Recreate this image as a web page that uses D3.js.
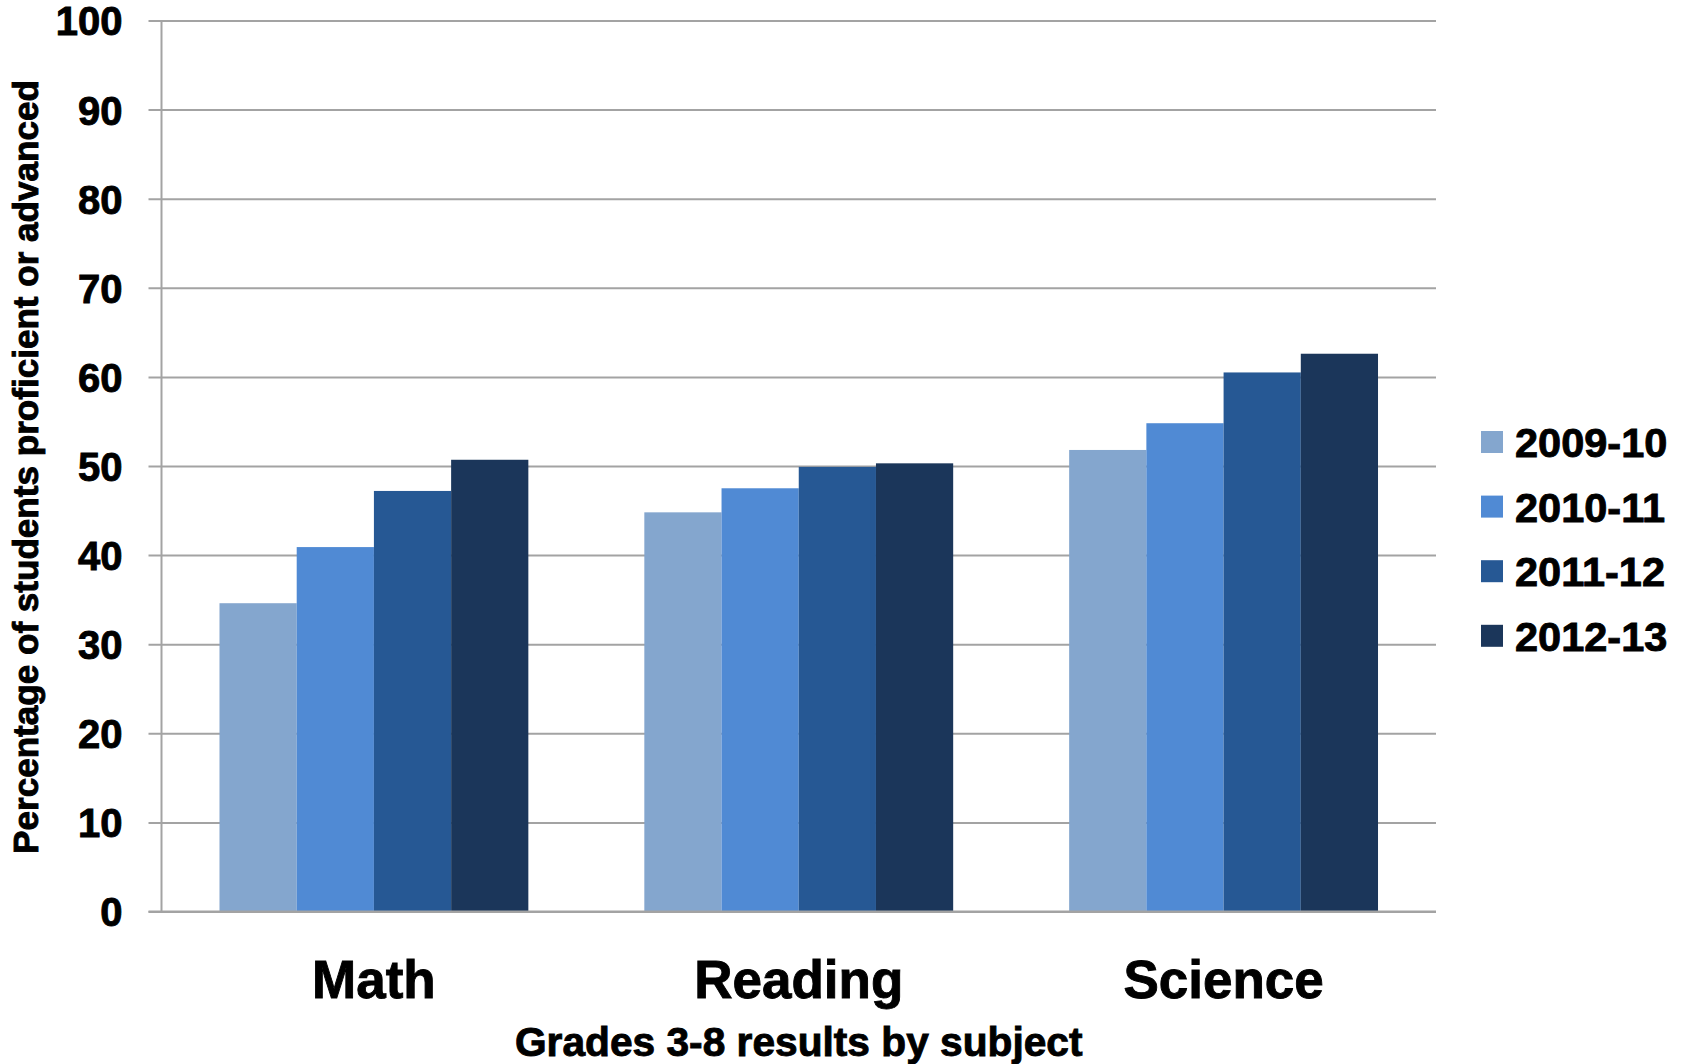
<!DOCTYPE html>
<html>
<head>
<meta charset="utf-8">
<script src="https://cdn.jsdelivr.net/npm/d3@7"></script>
<style>
  html, body { margin: 0; padding: 0; background: #fff; }
  svg text {
    font-family: "Liberation Sans", Arial, Helvetica, sans-serif;
    font-weight: bold;
    fill: #000;
    stroke: #000;
    stroke-width: 0.9px;
  }
</style>
</head>
<body>
<svg id="chart" width="1687" height="1064"></svg>
<script>
// Grades 3-8 proficiency by subject and school year
const subjects = ["Math", "Reading", "Science"];
const years = ["2009-10", "2010-11", "2011-12", "2012-13"];
const values2009 = [34.6, 44.8, 51.8];
const values2010 = [40.9, 47.5, 54.8];
const values2011 = [47.2, 49.9, 60.5];
const values2012 = [50.7, 50.3, 62.6];
const yTicks = [0, 10, 20, 30, 40, 50, 60, 70, 80, 90, 100];
const colors = ["#84a6ce", "#508ad4", "#265894", "#1b365a"];

const seriesValues = [values2009, values2010, values2011, values2012];
const rows = subjects.map((s, i) => ({
  subject: s,
  vals: years.map((y, j) => ({ year: y, value: seriesValues[j][i] }))
}));

const svg = d3.select("#chart");
const plot = { left: 161.5, right: 1436, top: 20.5, bottom: 911.5 };

const x0 = d3.scaleBand()
  .domain(subjects)
  .range([plot.left, plot.right])
  .paddingInner(0.273)
  .paddingOuter(0.1365);

const x1 = d3.scaleBand()
  .domain(years)
  .range([0, x0.bandwidth()])
  .padding(0);

const y = d3.scaleLinear().domain([0, 100]).range([plot.bottom, plot.top]);

const color = d3.scaleOrdinal().domain(years).range(colors);

// Horizontal gridlines with y tick labels
const yAxis = d3.axisLeft(y)
  .tickValues(yTicks)
  .tickSize(-(plot.right - plot.left + 13))
  .tickPadding(26)
  .tickFormat(d3.format("d"));

const gy = svg.append("g")
  .attr("transform", `translate(${plot.left - 13},0)`)
  .call(yAxis);
gy.select(".domain").remove();
gy.selectAll(".tick line")
  .attr("stroke", "#a3a3a3")
  .attr("stroke-width", 2);
gy.selectAll(".tick text")
  .attr("x", -26)
  .style("font-size", "40px")
  .attr("dy", "0.36em");

// Vertical axis line
svg.append("line")
  .attr("x1", plot.left).attr("x2", plot.left)
  .attr("y1", y(100)).attr("y2", y(0))
  .attr("stroke", "#a3a3a3")
  .attr("stroke-width", 2);

// Bars
const groups = svg.append("g").selectAll("g")
  .data(rows)
  .join("g")
  .attr("transform", d => `translate(${x0(d.subject)},0)`);

groups.selectAll("rect")
  .data(d => d.vals)
  .join("rect")
  .attr("x", d => x1(d.year))
  .attr("width", x1.bandwidth())
  .attr("y", d => y(d.value))
  .attr("height", d => y(0) - y(d.value))
  .attr("fill", d => color(d.year));

// Baseline drawn over the bar bottoms
svg.append("line")
  .attr("x1", plot.left - 13).attr("x2", plot.right)
  .attr("y1", y(0)).attr("y2", y(0))
  .attr("stroke", "#a3a3a3")
  .attr("stroke-width", 2);

// Category labels
svg.append("g").selectAll("text")
  .data(subjects)
  .join("text")
  .attr("x", d => x0(d) + x0.bandwidth() / 2)
  .attr("y", 998)
  .attr("text-anchor", "middle")
  .style("font-size", "53px")
  .text(d => d);

// Axis titles
svg.append("text")
  .attr("x", (plot.left + plot.right) / 2)
  .attr("y", 1056)
  .attr("text-anchor", "middle")
  .style("font-size", "40.7px")
  .text("Grades 3-8 results by subject");

svg.append("text")
  .attr("transform", `translate(38,467) rotate(-90)`)
  .attr("text-anchor", "middle")
  .style("font-size", "35.1px")
  .text("Percentage of students proficient or advanced");

// Legend
const legend = svg.append("g").selectAll("g")
  .data(years)
  .join("g")
  .attr("transform", (d, i) => `translate(1481,${442 + i * 64.6})`);

legend.append("rect")
  .attr("x", 0).attr("y", -11)
  .attr("width", 22).attr("height", 22)
  .attr("fill", d => color(d));

legend.append("text")
  .attr("x", 34)
  .attr("dy", "0.36em")
  .style("font-size", "41.5px")
  .text(d => d);
</script>
</body>
</html>
